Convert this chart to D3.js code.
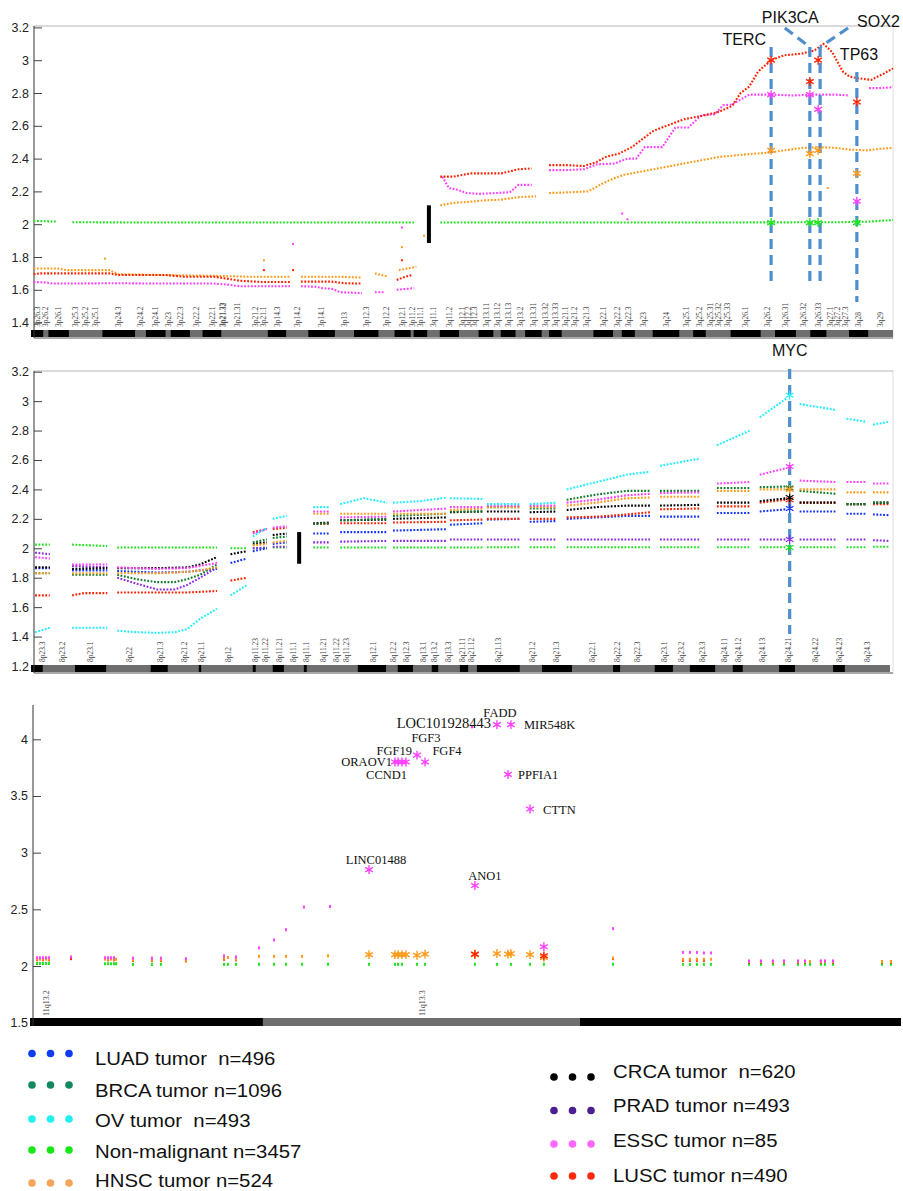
<!DOCTYPE html>
<html>
<head>
<meta charset="utf-8">
<script src="https://cdn.jsdelivr.net/npm/d3@7/dist/d3.min.js"></script>
<style>
  body { margin: 0; background: #fff; }
  svg { display: block; font-family: "Liberation Sans", Arial, sans-serif; }
</style>
</head>
<body>
<svg id="chart" width="903" height="1191"></svg>
<script>
// ---------- top panel: chromosome 3 (Mb) ----------
var chr3Bands = [
  ["3p26.3",0,2.8,1],["3p26.2",2.8,4.0,0],["3p26.1",4.0,8.7,1],["3p25.3",8.7,11.8,0],["3p25.2",11.8,13.3,0],
  ["3p25.1",13.3,16.4,0],["3p24.3",16.4,23.9,1],["3p24.2",23.9,26.4,0],["3p24.1",26.4,30.9,1],["3p23",30.9,32.1,0],
  ["3p22.3",32.1,36.5,1],["3p22.2",36.5,39.4,0],["3p22.1",39.4,43.7,1],["3p21.33",43.7,44.1,0],["3p21.32",44.1,44.2,0],
  ["3p21.31",44.2,50.6,0],["3p21.2",50.6,52.3,0],["3p21.1",52.3,54.4,0],["3p14.3",54.4,58.6,1],["3p14.2",58.6,63.7,0],
  ["3p14.1",63.7,69.8,1],["3p13",69.8,74.2,0],["3p12.3",74.2,79.8,1],["3p12.2",79.8,83.5,0],["3p12.1",83.5,87.2,1],
  ["3p11.2",87.2,87.9,0],["3p11.1",87.9,91.0,1],["3q11.1",91.0,93.9,0],["3q11.2",93.9,98.3,1],["3q12.1",98.3,100.0,0],
  ["3q12.2",100.0,100.9,0],["3q12.3",100.9,102.8,0],["3q13.11",102.8,106.2,1],["3q13.12",106.2,107.9,0],["3q13.13",107.9,111.3,1],
  ["3q13.2",111.3,113.5,0],["3q13.31",113.5,117.3,1],["3q13.32",117.3,119.0,0],["3q13.33",119.0,121.9,1],["3q21.1",121.9,123.8,0],
  ["3q21.2",123.8,125.8,0],["3q21.3",125.8,129.2,0],["3q22.1",129.2,133.7,1],["3q22.2",133.7,135.7,0],["3q22.3",135.7,138.7,1],
  ["3q23",138.7,142.8,0],["3q24",142.8,148.9,1],["3q25.1",148.9,152.1,0],["3q25.2",152.1,155.0,1],["3q25.31",155.0,157.0,0],
  ["3q25.32",157.0,159.0,0],["3q25.33",159.0,160.7,0],["3q26.1",160.7,167.6,1],["3q26.2",167.6,170.9,0],["3q26.31",170.9,175.7,1],
  ["3q26.32",175.7,179.0,0],["3q26.33",179.0,182.7,1],["3q27.1",182.7,184.5,0],["3q27.2",184.5,186.0,0],["3q27.3",186.0,187.9,0],
  ["3q28",187.9,192.3,1],["3q29",192.3,198.0,0]
];
var topTicks = [1.4,1.6,1.8,2,2.2,2.4,2.6,2.8,3,3.2];

var topNormal = [[0.6,2.02],[6,2.016],null,[9.5,2.012],[30,2.01],[60,2.01],[88,2.01],null,
  [94,2.01],[150,2.01],[185,2.012],[192,2.015],[198,2.025]];
var topHNSC = [[0.6,1.73],[6,1.73],[8.2,1.72],[18,1.72],[20,1.695],[31,1.69],[42,1.685],[50,1.68],[59.5,1.68],null,
  [62,1.68],[70,1.68],[76,1.675],null,[79,1.70],[82,1.68],null,[84.5,1.72],[86.5,1.73],[88.5,1.74],null,
  [94,2.115],[97,2.13],[100,2.135],[104,2.145],[108,2.15],[112,2.165],[116,2.17],null,[119,2.19],[124,2.195],
  [128,2.20],[130.7,2.24],[133,2.27],[136,2.30],[142,2.33],[146,2.35],[150,2.37],[154,2.39],[158,2.41],[162,2.42],
  [166,2.43],[169,2.435],[173,2.45],[177,2.465],[181,2.47],[185,2.465],[188,2.455],[192,2.45],[195,2.46],[198,2.465]];
var topLUSC = [[0.6,1.695],[2,1.70],[8.2,1.70],[18,1.70],[20,1.69],[31,1.69],[35,1.68],[42,1.68],[45,1.668],[48,1.655],
  [53,1.648],[59.5,1.648],null,[62,1.65],[69,1.65],[72,1.64],[76,1.638],null,[84,1.66],[86,1.68],[87.5,1.69],null,
  [94,2.29],[97,2.29],[101,2.31],[104,2.31],[108,2.31],[112,2.335],[115,2.34],null,[119,2.36],[123,2.36],[127,2.355],
  [130,2.38],[132,2.41],[135,2.43],[138,2.47],[141,2.53],[143,2.57],[146,2.60],[150,2.64],[154,2.66],[158,2.685],
  [161,2.72],[163,2.80],[165,2.84],[167,2.93],[170,3.0],[173,3.03],[177,3.04],[180,3.06],[182,3.10],[184,3.05],
  [186.5,2.93],[188,2.90],[190,2.89],[193,2.88],[196,2.92],[198,2.95]];
var topESSC = [[0.6,1.648],[3,1.645],[5,1.638],[20,1.64],[30,1.638],[42,1.638],[45,1.632],[48,1.622],[59.5,1.622],null,
  [62,1.622],[65.5,1.618],[67,1.61],[69.4,1.605],[71,1.585],[76,1.58],null,[79,1.585],[81,1.585],null,[84,1.60],[86,1.605],[88,1.61],null,
  [94.5,2.29],[96,2.22],[98,2.21],[100,2.19],[103,2.185],[107,2.19],[110,2.195],[112,2.24],[115,2.24],null,[119,2.33],
  [123,2.33],[127,2.335],[130,2.365],[134,2.37],[137,2.40],[139,2.40],[141,2.47],[145,2.47],[148,2.59],[151,2.59],
  [154,2.665],[157,2.67],[159,2.725],[161,2.73],[165,2.79],[170,2.79],[175,2.785],[180,2.79],[185,2.79],[188,2.785],null,
  [192.5,2.83],[195,2.83],[198,2.835]];
var topOutlierPos = [17.0,53.5,53.5,60.2,60.2,85.2,85.2,85.2,90.3,135.8,137,183];
var topOutlierVal = [1.79,1.78,1.72,1.88,1.72,1.98,1.86,1.78,1.93,2.065,2.03,2.22];
var topOutlierSeries = [1,1,2,3,2,3,1,2,1,3,3,1];

var topGenes = ["TERC","PIK3CA","SOX2","TP63"];
var topGenePos = [170.0,178.9,180.8,189.7];
var topGeneNormal = [2.01,2.01,2.01,2.01];
var topGeneHNSC = [2.45,2.43,2.45,2.31];
var topGeneLUSC = [3.00,2.87,3.00,2.745];
var topGeneESSC = [2.79,2.79,2.70,2.14];
var topCentromere = [91.4,1.885,2.115];

// ---------- middle panel: chromosome 8 ----------
var midBandNames = ["8p23.3","8p23.2","8p23.1","8p22","8p21.3","8p21.2","8p21.1","8p12","8p11.23","8p11.22","8p11.21","8p11.1",
  "8q11.1","8q11.21","8q11.22","8q11.23","8q12.1","8q12.2","8q12.3","8q13.1","8q13.2","8q13.3","8q21.11","8q21.12","8q21.13",
  "8q21.2","8q21.3","8q22.1","8q22.2","8q22.3","8q23.1","8q23.2","8q23.3","8q24.11","8q24.12","8q24.13","8q24.21","8q24.22",
  "8q24.23","8q24.3"];
var midBandCenters = [1.9,5.3,10.2,16.7,22.0,26.1,29.0,33.6,38.2,39.9,42.3,44.8,46.9,49.8,52.1,53.8,58.3,61.7,63.9,66.8,68.8,
  71.2,73.6,75.1,79.6,85.4,89.6,95.6,99.9,103.4,107.9,110.9,114.5,118.1,120.6,124.6,129.0,133.6,137.7,142.6];
var midDarkBlocks = [[0,2.0],[7.5,12.8],[20.4,23.3],[28.6,29.0],[37.8,38.3],[41.2,43.1],[46.5,47.0],[55.7,60.5],[62.5,65.1],
  [68.3,69.4],[73.1,74.5],[76.0,83.3],[87.1,92.2],[99.2,100.4],[106.3,109.4],[112.3,116.6],[119.6,121.3],[127.5,130.2],[136.7,138.7]];
var midTicks = [1.2,1.4,1.6,1.8,2,2.2,2.4,2.6,2.8,3,3.2];

var midNormal = [[0.7,2.025],[3.2,2.025],null,[7,2.025],[10,2.02],[13,2.015],null,[14.7,2.005],[31.7,2.005],null,[34,2.0],[36.8,2.0],null,
  [37.8,2.0],[40.2,2.0],null,[41.2,2.005],[43.6,2.005],null,[48.1,2.005],[51,2.005],null,[52.7,2.005],[60.7,2.005],null,
  [61.7,2.005],[70.9,2.005],null,[71.4,2.005],[77,2.005],null,[77.7,2.007],[83.3,2.007],null,[85,2.007],[89.6,2.007],null,
  [91.3,2.007],[105.5,2.007],null,[107.2,2.007],[114,2.007],null,[116.9,2.007],[122.5,2.007],null,[124.2,2.007],[128.8,2.007],null,
  [131,2.007],[137.3,2.007],null,[139,2.007],[142.3,2.007],null,[143.5,2.01],[146.3,2.01]];
var midPRAD = [[0.7,1.97],[3.2,1.96],null,[7,1.88],[13,1.87],null,[14.7,1.80],[18,1.76],[21.5,1.72],[24.5,1.72],[26.6,1.75],[28.8,1.80],[31.7,1.87],null,
  [37.8,2.0],[40.2,2.005],null,[41.2,2.01],[43.6,2.01],null,[48.1,2.04],[51,2.04],null,[52.7,2.045],[60.7,2.05],null,
  [61.7,2.05],[70.9,2.05],null,[71.4,2.06],[77,2.06],null,[77.7,2.06],[83.3,2.06],null,[85,2.06],[89.6,2.06],null,
  [91.3,2.06],[105.5,2.06],null,[107.2,2.06],[114,2.06],null,[116.9,2.06],[122.5,2.06],null,[124.2,2.06],[128.8,2.06],null,
  [131,2.06],[137.3,2.06],null,[139,2.06],[142.3,2.06],null,[143.5,2.055],[146.3,2.05]];
var midLUAD = [[0.7,1.865],[3.2,1.865],null,[7,1.85],[13,1.85],null,[14.7,1.845],[21.5,1.835],[26.6,1.84],[28.8,1.85],[31.7,1.86],null,
  [34,1.90],[36.8,1.93],null,[37.8,1.98],[40.2,2.0],null,[41.2,2.03],[43.6,2.04],null,[48.1,2.10],[51,2.10],null,
  [52.7,2.11],[60.7,2.11],null,[61.7,2.12],[70.9,2.13],null,[71.4,2.16],[77,2.17],null,[77.7,2.195],[83.3,2.20],null,
  [85,2.18],[89.6,2.185],null,[91.3,2.20],[96.4,2.21],[101.5,2.22],[105.5,2.22],null,[107.2,2.215],[114,2.215],null,
  [116.9,2.24],[122.5,2.24],null,[124.2,2.25],[128.8,2.265],null,[131,2.25],[137.3,2.25],null,[139,2.235],[142.3,2.235],null,
  [143.5,2.23],[146.3,2.225]];
var midLUSC = [[0.7,1.68],[3.2,1.68],null,[7,1.68],[9,1.695],[13,1.695],null,[14.7,1.70],[21.5,1.70],[26.6,1.70],[31.7,1.71],null,
  [34,1.78],[36.8,1.80],null,[37.8,2.11],[40.2,2.13],null,[41.2,2.13],[43.6,2.14],null,[48.1,2.165],[51,2.165],null,
  [52.7,2.17],[60.7,2.17],null,[61.7,2.175],[70.9,2.18],null,[71.4,2.19],[77,2.195],null,[77.7,2.20],[83.3,2.20],null,
  [85,2.20],[89.6,2.20],null,[91.3,2.21],[96.4,2.215],[101.5,2.23],[105.5,2.245],null,[107.2,2.265],[114,2.27],null,
  [116.9,2.285],[122.5,2.285],null,[124.2,2.31],[128.8,2.33],null,[131,2.31],[137.3,2.31],null,[139,2.30],[142.3,2.30],null,
  [143.5,2.30],[146.3,2.30]];
var midCRCA = [[0.7,1.87],[3.2,1.87],null,[7,1.86],[13,1.865],null,[14.7,1.865],[21.5,1.865],[26.6,1.87],[28.8,1.89],[31.7,1.94],null,
  [34,1.96],[36.8,1.98],null,[37.8,2.03],[40.2,2.04],null,[41.2,2.09],[43.6,2.10],null,[48.1,2.17],[51,2.175],null,
  [52.7,2.19],[60.7,2.195],null,[61.7,2.20],[70.9,2.21],null,[71.4,2.245],[77,2.25],null,[77.7,2.25],[83.3,2.25],null,
  [85,2.245],[89.6,2.25],null,[91.3,2.26],[96.4,2.28],[101.5,2.29],[105.5,2.29],null,[107.2,2.29],[114,2.295],null,
  [116.9,2.31],[122.5,2.31],null,[124.2,2.32],[128.8,2.34],null,[131,2.31],[137.3,2.31],null,[139,2.30],[142.3,2.30],null,
  [143.5,2.31],[146.3,2.31]];
var midBRCA = [[0.7,1.83],[3.2,1.83],null,[7,1.82],[13,1.82],null,[14.7,1.82],[18,1.79],[21.5,1.77],[24.5,1.77],[26.6,1.79],[28.8,1.82],[31.7,1.89],null,
  [37.8,2.04],[40.2,2.06],null,[41.2,2.07],[43.6,2.08],null,[48.1,2.165],[51,2.17],null,[52.7,2.19],[60.7,2.20],null,
  [61.7,2.22],[70.9,2.235],null,[71.4,2.25],[77,2.25],null,[77.7,2.28],[83.3,2.28],null,[85,2.27],[89.6,2.27],null,
  [91.3,2.33],[96.4,2.365],[101.5,2.39],[105.5,2.39],null,[107.2,2.39],[114,2.39],null,[116.9,2.41],[122.5,2.41],null,
  [124.2,2.415],[128.8,2.42],null,[131,2.39],[137.3,2.37],null,[139,2.30],[142.3,2.30],null,[143.5,2.31],[146.3,2.31]];
var midHNSC = [[0.7,1.83],[3.2,1.83],null,[7,1.83],[13,1.83],null,[14.7,1.83],[21.5,1.83],[26.6,1.84],[28.8,1.85],[31.7,1.87],null,
  [37.8,2.02],[40.2,2.03],null,[41.2,2.04],[43.6,2.05],null,[48.1,2.235],[51,2.235],null,[52.7,2.235],[60.7,2.235],null,
  [61.7,2.235],[70.9,2.235],null,[71.4,2.26],[77,2.27],null,[77.7,2.28],[83.3,2.28],null,[85,2.28],[89.6,2.28],null,
  [91.3,2.29],[96.4,2.31],[101.5,2.34],[105.5,2.345],null,[107.2,2.35],[114,2.35],null,[116.9,2.39],[122.5,2.39],null,
  [124.2,2.40],[128.8,2.40],null,[131,2.40],[137.3,2.40],null,[139,2.38],[142.3,2.38],null,[143.5,2.38],[146.3,2.38]];
var midESSC = [[0.7,1.94],[3.2,1.93],null,[7,1.89],[13,1.89],null,[14.7,1.87],[21.5,1.86],[26.6,1.865],[28.8,1.88],[31.7,1.90],null,
  [37.8,2.10],[40.2,2.13],null,[41.2,2.14],[43.6,2.15],null,[48.1,2.25],[51,2.25],null,[52.7,2.21],[60.7,2.215],null,
  [61.7,2.25],[70.9,2.27],null,[71.4,2.28],[77,2.28],null,[77.7,2.29],[83.3,2.29],null,[85,2.29],[89.6,2.29],null,
  [91.3,2.31],[96.4,2.33],[101.5,2.36],[105.5,2.37],null,[107.2,2.375],[114,2.38],null,[116.9,2.44],[122.5,2.45],null,
  [124.2,2.50],[128.8,2.545],null,[131,2.46],[137.3,2.45],null,[139,2.45],[142.3,2.45],null,[143.5,2.44],[146.3,2.44]];
var midOV = [[0.7,1.43],[3.2,1.46],null,[7,1.46],[13,1.46],null,[14.7,1.44],[18,1.43],[21.5,1.425],[24.5,1.43],[26.6,1.45],[28.8,1.52],[31.7,1.59],null,
  [34,1.68],[36.8,1.75],null,[37.8,2.08],[40.2,2.14],null,[41.2,2.20],[43.6,2.22],null,[48.1,2.28],[51,2.28],null,
  [52.7,2.30],[56.7,2.34],[60.7,2.31],null,[61.7,2.31],[66.3,2.32],[70.9,2.345],null,[71.4,2.34],[77,2.335],null,
  [77.7,2.30],[83.3,2.30],null,[85,2.30],[89.6,2.31],null,[91.3,2.40],[96.4,2.45],[101.5,2.50],[105.5,2.52],null,
  [107.2,2.56],[114,2.61],null,[116.9,2.70],[122.5,2.80],null,[124.2,2.89],[128.8,3.02],null,[131,2.98],[137.3,2.94],null,
  [139,2.88],[142.3,2.86],null,[143.5,2.84],[146.3,2.86]];
var mycPos = 129.3;
var mycValues = [2.005,2.06,2.27,2.33,2.345,2.41,2.40,2.555,3.04];
var midCentromere = [45.7,1.895,2.11];

// ---------- bottom panel: 11q13 (Mb) ----------
var bottomBandStarts = [67.3,68.664,70.52];
var bottomBandEnds = [68.664,70.52,72.4];
var bottomBandDark = [1,0,1];
var bottomBandLabels = ["11q13.2","11q13.3"];
var bottomBandLabelPos = [67.394,69.595];
var botTicks = [1.5,2,2.5,3,3.5,4];

var bottomNormal = [[67.341,2.022],[67.358,2.022],[67.376,2.022],[67.394,2.022],[67.411,2.022],[67.739,2.02],[67.757,2.02],
  [67.774,2.02],[67.792,2.02],[67.804,2.02],[67.903,2.015],[68.014,2.015],[68.067,2.015],[68.436,2.015],[68.459,2.015],
  [68.506,2.015],[68.641,2.015],[68.729,2.015],[68.799,2.015],[68.893,2.015],[69.045,2.015],[69.285,2.015],[69.437,2.015],
  [69.455,2.015],[69.478,2.015],[69.566,2.015],[69.613,2.015],[69.905,2.015],[70.034,2.015],[70.116,2.015],[70.228,2.015],
  [70.309,2.015],[70.714,2.015],[71.123,2.015],[71.164,2.015],[71.205,2.015],[71.246,2.015],[71.287,2.015],[71.510,2.015],
  [71.580,2.015],[71.650,2.015],[71.715,2.015],[71.797,2.015],[71.838,2.015],[71.867,2.015],[71.931,2.015],[71.955,2.015],
  [72.002,2.015],[72.289,2.015],[72.341,2.015]];
var bottomHNSC = [[67.341,2.06],[67.358,2.06],[67.376,2.06],[67.394,2.06],[67.411,2.06],[67.739,2.06],[67.757,2.06],[67.774,2.06],
  [67.792,2.06],[67.804,2.06],[67.903,2.055],[68.014,2.055],[68.067,2.055],[68.213,2.05],[68.436,2.07],[68.459,2.075],[68.506,2.06],
  [68.641,2.085],[68.729,2.085],[68.799,2.085],[68.893,2.085],[69.045,2.09],[70.714,2.07],[71.123,2.06],[71.164,2.06],[71.205,2.06],
  [71.246,2.06],[71.287,2.06],[71.510,2.04],[71.580,2.04],[71.650,2.04],[71.715,2.04],[71.797,2.04],[71.838,2.04],[71.867,2.04],
  [71.931,2.04],[71.955,2.04],[72.002,2.04],[72.289,2.04],[72.341,2.04]];
var bottomLUSC = [[67.341,2.055],[67.376,2.055],[67.411,2.055],[67.540,2.065],[67.757,2.055],[67.792,2.055],[67.903,2.05],[68.014,2.05],
  [68.067,2.05],[68.213,2.045],[68.436,2.06],[68.506,2.055],[70.714,2.065],[71.123,2.05],[71.164,2.05],[71.205,2.05],[71.246,2.05],
  [71.510,2.035],[71.580,2.035],[71.650,2.035],[71.715,2.035],[71.797,2.035],[71.838,2.035],[71.931,2.035],[72.002,2.035],
  [72.289,2.035],[72.341,2.035]];
var bottomESSC = [[67.341,2.073],[67.358,2.073],[67.376,2.073],[67.394,2.073],[67.411,2.073],[67.540,2.08],[67.739,2.073],[67.757,2.073],
  [67.774,2.073],[67.792,2.073],[67.903,2.07],[68.014,2.07],[68.067,2.07],[68.213,2.065],[68.436,2.09],[68.506,2.08],[68.641,2.16],
  [68.729,2.23],[68.799,2.32],[68.904,2.52],[69.057,2.525],[69.888,4.11],[70.714,2.33],[71.123,2.12],[71.164,2.12],[71.205,2.12],
  [71.246,2.115],[71.287,2.115],[71.510,2.045],[71.580,2.045],[71.650,2.045],[71.715,2.045],[71.797,2.045],[71.838,2.045],
  [71.931,2.045],[71.955,2.045],[72.002,2.045]];

var geneNames11 = ["LINC01488","ORAOV1","CCND1","","FGF19","FGF3","FGF4","ANO1","FADD","MIR548K","PPFIA1","CTTN",""];
var genePos11 = [69.285,69.437,69.455,69.478,69.501,69.566,69.613,69.905,70.034,70.116,70.099,70.228,70.309];
var geneESSC11 = [2.85,3.80,3.80,3.80,3.80,3.86,3.80,2.71,4.13,4.13,3.69,3.385,2.17];
var geneHNSC11 = [2.10,2.10,2.10,2.10,2.10,2.095,2.105,2.10,2.11,2.11,2.105,2.10,2.075];
var geneLUSC11 = [null,null,null,null,null,null,null,2.105,null,null,null,null,2.09];
var locLabel = ["LOC101928443",69.888,4.11];

// ---------- legend ----------
var legendLeft = ["LUAD tumor  n=496","BRCA tumor n=1096","OV tumor  n=493","Non-malignant n=3457","HNSC tumor n=524"];
var legendRight = ["CRCA tumor  n=620","PRAD tumor n=493","ESSC tumor n=85","LUSC tumor n=490"];

// colours (plot) and legend colours
var col = {normal:"#1fe41f", hnsc:"#ff9a1a", lusc:"#ff2200", essc:"#ff40ff", ov:"#1ff0ff",
           luad:"#1433ff", brca:"#117a2c", crca:"#000000", prad:"#8a2be2"};
var legendLeftColors = ["#0f3cf0","#128a5e","#1ef0f0","#16e816","#f5a55a"];
var legendRightColors = ["#000000","#4b1e91","#ff66ff","#ff2a0a"];
var dotted = "1.8 1.6";

var svg = d3.select("#chart");

function drawAxis(scale, ticks, xPos) {
  var ax = d3.axisLeft(scale).tickValues(ticks).tickSize(-8).tickPadding(5).tickFormat(d3.format("~g"));
  var a = svg.append("g").attr("transform", "translate(" + xPos + ",0)").call(ax);
  a.select(".domain").remove();
  a.selectAll(".tick line").attr("stroke", "#444");
  a.selectAll(".tick text").attr("font-size", 12.5).attr("fill", "#222")
    .attr("font-family", "Liberation Sans, Arial, sans-serif");
  return a;
}

function drawLine(x, y, data, color) {
  var line = d3.line().defined(function (d) { return d !== null; })
    .x(function (d) { return x(d[0]); }).y(function (d) { return y(d[1]); });
  svg.append("path").datum(data).attr("d", line).attr("fill", "none")
    .attr("stroke", color).attr("stroke-width", 2.1).attr("stroke-dasharray", dotted);
}

var star = d3.symbol().type(d3.symbolAsterisk).size(55);
function drawStar(px, py, color, w) {
  svg.append("path").attr("d", star).attr("transform", "translate(" + px + "," + py + ")")
    .attr("fill", "none").attr("stroke", color).attr("stroke-width", w || 1.4);
}

function bandLabel(px, py, name, size) {
  svg.append("text").attr("transform", "translate(" + px + "," + py + ") rotate(-90)")
    .attr("dy", "0.35em").attr("font-size", size || 7.5).attr("fill", "#444")
    .attr("font-family", "Liberation Serif, Times New Roman, serif").text(name);
}

// =============== TOP PANEL ===============
var xTop = d3.scaleLinear().domain([0, 198]).range([31, 893]);
var yTop = d3.scaleLinear().domain([1.4, 3.2]).range([322.6, 27.4]);

svg.append("line").attr("x1", 34).attr("x2", 893).attr("y1", 26).attr("y2", 26).attr("stroke", "#b5b5b5");
svg.append("line").attr("x1", 893).attr("x2", 893).attr("y1", 26).attr("y2", 338).attr("stroke", "#dcdcdc");
drawAxis(yTop, topTicks, 34);

// cytoband labels and bar
chr3Bands.forEach(function (b) { bandLabel(xTop((b[1] + b[2]) / 2), 327, b[0]); });
svg.append("rect").attr("x", xTop(0)).attr("y", 330).attr("width", xTop(198) - xTop(0)).attr("height", 7).attr("fill", "#6e6e6e");
svg.selectAll(".b3").data(chr3Bands.filter(function (b) { return b[3]; })).enter().append("rect")
  .attr("x", function (b) { return xTop(b[1]); }).attr("width", function (b) { return xTop(b[2]) - xTop(b[1]); })
  .attr("y", 330).attr("height", 7).attr("fill", "#000");
svg.append("line").attr("x1", 34).attr("x2", 893).attr("y1", 338).attr("y2", 338).attr("stroke", "#555");
svg.append("line").attr("x1", 34).attr("x2", 34).attr("y1", 26).attr("y2", 338).attr("stroke", "#333");

drawLine(xTop, yTop, topNormal, col.normal);
drawLine(xTop, yTop, topHNSC, col.hnsc);
drawLine(xTop, yTop, topESSC, col.essc);
drawLine(xTop, yTop, topLUSC, col.lusc);
var topSeriesColors = [col.normal, col.hnsc, col.lusc, col.essc];
topOutlierPos.forEach(function (p, i) {
  svg.append("rect").attr("x", xTop(p) - 1).attr("y", yTop(topOutlierVal[i]) - 1).attr("width", 2).attr("height", 2)
    .attr("fill", topSeriesColors[topOutlierSeries[i]]);
});

// centromere marker
svg.append("rect").attr("x", xTop(topCentromere[0]) - 2).attr("width", 4)
  .attr("y", yTop(topCentromere[2])).attr("height", yTop(topCentromere[1]) - yTop(topCentromere[2])).attr("fill", "#000");

// gene annotations
var blue = "#4f8fcf";
var geneLayout = [
  {lx: -5, ly: 45, anchor: "end", top: 47, bottom: 287},
  {lx: -48, ly: 23, anchor: "start", top: 47, bottom: 287, diag: [-25, 28]},
  {lx: 39, ly: 27, anchor: "start", top: 47, bottom: 287, diag: [30, 28], ox: 2},
  {lx: -17, ly: 59.5, anchor: "start", top: 72, bottom: 302}
];
topGenes.forEach(function (g, i) {
  var gx = xTop(topGenePos[i]), L = geneLayout[i], lx = gx + (L.ox || 0);
  svg.append("line").attr("x1", lx).attr("x2", lx).attr("y1", L.top).attr("y2", L.bottom)
    .attr("stroke", blue).attr("stroke-width", 3.2).attr("stroke-dasharray", "10 6");
  if (L.diag) {
    svg.append("line").attr("x1", gx + L.diag[0]).attr("y1", L.diag[1]).attr("x2", lx).attr("y2", L.top)
      .attr("stroke", blue).attr("stroke-width", 3.2).attr("stroke-dasharray", "10 6");
  }
  svg.append("text").attr("x", gx + L.lx).attr("y", L.ly).attr("text-anchor", L.anchor)
    .attr("font-size", 16).attr("fill", "#111").text(g);
  drawStar(gx, yTop(topGeneNormal[i]), col.normal);
  drawStar(gx, yTop(topGeneHNSC[i]), col.hnsc);
  drawStar(gx, yTop(topGeneESSC[i]), col.essc);
  drawStar(gx, yTop(topGeneLUSC[i]), col.lusc);
});

// =============== MIDDLE PANEL ===============
var xMid = d3.scaleLinear().domain([0, 146.4]).range([31, 890]);
var yMid = d3.scaleLinear().domain([1.2, 3.2]).range([666, 371.7]);

svg.append("line").attr("x1", 34).attr("x2", 893).attr("y1", 371).attr("y2", 371).attr("stroke", "#b5b5b5");
svg.append("line").attr("x1", 893).attr("x2", 893).attr("y1", 371).attr("y2", 673).attr("stroke", "#dcdcdc");
drawAxis(yMid, midTicks, 34);

midBandNames.forEach(function (n, i) { bandLabel(xMid(midBandCenters[i]), 662, n); });
svg.append("rect").attr("x", xMid(0)).attr("y", 665).attr("width", xMid(146.4) - xMid(0)).attr("height", 7).attr("fill", "#6e6e6e");
svg.selectAll(".b8").data(midDarkBlocks).enter().append("rect")
  .attr("x", function (b) { return xMid(b[0]); }).attr("width", function (b) { return xMid(b[1]) - xMid(b[0]); })
  .attr("y", 665).attr("height", 7).attr("fill", "#000");
svg.append("line").attr("x1", 34).attr("x2", 893).attr("y1", 673).attr("y2", 673).attr("stroke", "#555");
svg.append("line").attr("x1", 34).attr("x2", 34).attr("y1", 371).attr("y2", 673).attr("stroke", "#333");

var midSeries = [midNormal, midPRAD, midLUAD, midLUSC, midCRCA, midBRCA, midHNSC, midESSC, midOV];
var midColors = [col.normal, col.prad, col.luad, col.lusc, col.crca, col.brca, col.hnsc, col.essc, col.ov];
midSeries.forEach(function (s, i) { drawLine(xMid, yMid, s, midColors[i]); });

svg.append("rect").attr("x", xMid(midCentromere[0]) - 2).attr("width", 4)
  .attr("y", yMid(midCentromere[2])).attr("height", yMid(midCentromere[1]) - yMid(midCentromere[2])).attr("fill", "#000");

var mx = xMid(mycPos);
svg.append("line").attr("x1", mx).attr("x2", mx).attr("y1", 369).attr("y2", 634)
  .attr("stroke", blue).attr("stroke-width", 3.2).attr("stroke-dasharray", "10 6");
svg.append("text").attr("x", mx).attr("y", 356).attr("text-anchor", "middle").attr("font-size", 16).attr("fill", "#111").text("MYC");
mycValues.forEach(function (v, i) { drawStar(mx, yMid(v), midColors[i], 1.2); });

// =============== BOTTOM PANEL ===============
var xBot = d3.scaleLinear().domain([67.3, 72.4]).range([30, 901]);
var yBot = d3.scaleLinear().domain([1.5, 4.3]).range([1022.7, 705.3]);

drawAxis(yBot, botTicks, 33);
bottomBandLabels.forEach(function (n, i) { bandLabel(xBot(bottomBandLabelPos[i]), 1016, n, 8); });
bottomBandStarts.forEach(function (s, i) {
  svg.append("rect").attr("x", xBot(s)).attr("width", xBot(bottomBandEnds[i]) - xBot(s))
    .attr("y", 1018).attr("height", 8).attr("fill", bottomBandDark[i] ? "#000" : "#6e6e6e");
});
svg.append("line").attr("x1", 33).attr("x2", 33).attr("y1", 705).attr("y2", 1026).attr("stroke", "#333");

function drawTicks(data, color) {
  svg.append("g").selectAll("rect").data(data).enter().append("rect")
    .attr("x", function (d) { return xBot(d[0]) - 1; }).attr("y", function (d) { return yBot(d[1]) - 1.5; })
    .attr("width", 2).attr("height", 3).attr("fill", color);
}
drawTicks(bottomNormal, col.normal);
drawTicks(bottomLUSC, col.lusc);
drawTicks(bottomHNSC, col.hnsc);
drawTicks(bottomESSC, col.essc);

genePos11.forEach(function (p, i) {
  var gx = xBot(p);
  drawStar(gx, yBot(geneHNSC11[i]), col.hnsc);
  if (geneLUSC11[i] !== null) drawStar(gx, yBot(geneLUSC11[i]), col.lusc);
  drawStar(gx, yBot(geneESSC11[i]), col.essc);
});

var labelLayout11 = [[7,-6,"middle"],[-3,4,"end"],[9,17,"end"],null,[6,-7,"end"],[9,-13,"middle"],[22,-7,"middle"],
  [10,-6,"middle"],[3,-7.5,"middle"],[13,4.5,"start"],[10,5,"start"],[13,5,"start"],null];
geneNames11.forEach(function (n, i) {
  if (!n) return;
  var L = labelLayout11[i];
  svg.append("text").attr("x", xBot(genePos11[i]) + L[0]).attr("y", yBot(geneESSC11[i]) + L[1])
    .attr("text-anchor", L[2]).attr("font-size", 12.5).attr("fill", "#111")
    .attr("font-family", "Liberation Serif, Times New Roman, serif").text(n);
});
svg.append("text").attr("x", xBot(locLabel[1]) + 19).attr("y", yBot(locLabel[2]) + 1)
  .attr("text-anchor", "end").attr("font-size", 14.5).attr("fill", "#111")
  .attr("font-family", "Liberation Serif, Times New Roman, serif").text(locLabel[0]);

// =============== LEGEND ===============
function legendEntry(label, color, dotX, dotY, textX, textY) {
  [0, 18.5, 37].forEach(function (o) {
    svg.append("circle").attr("cx", dotX + o).attr("cy", dotY).attr("r", 3.8).attr("fill", color);
  });
  var t = svg.append("text").attr("x", textX).attr("y", textY).attr("font-size", 18).attr("fill", "#111")
    .style("white-space", "pre").text(label);
  var len = t.node().getComputedTextLength();
  t.attr("textLength", len * 1.13).attr("lengthAdjust", "spacingAndGlyphs");
}
var leftDotY = [1053.5, 1085, 1119, 1150, 1183];
var leftTextY = [1065, 1097, 1127, 1157.5, 1187];
legendLeft.forEach(function (l, i) { legendEntry(l, legendLeftColors[i], 32, leftDotY[i], 95, leftTextY[i]); });
var rightDotY = [1077, 1110.5, 1144, 1176];
var rightTextY = [1077.5, 1112, 1146.5, 1181.5];
legendRight.forEach(function (l, i) { legendEntry(l, legendRightColors[i], 554, rightDotY[i], 613, rightTextY[i]); });
</script>
</body>
</html>
